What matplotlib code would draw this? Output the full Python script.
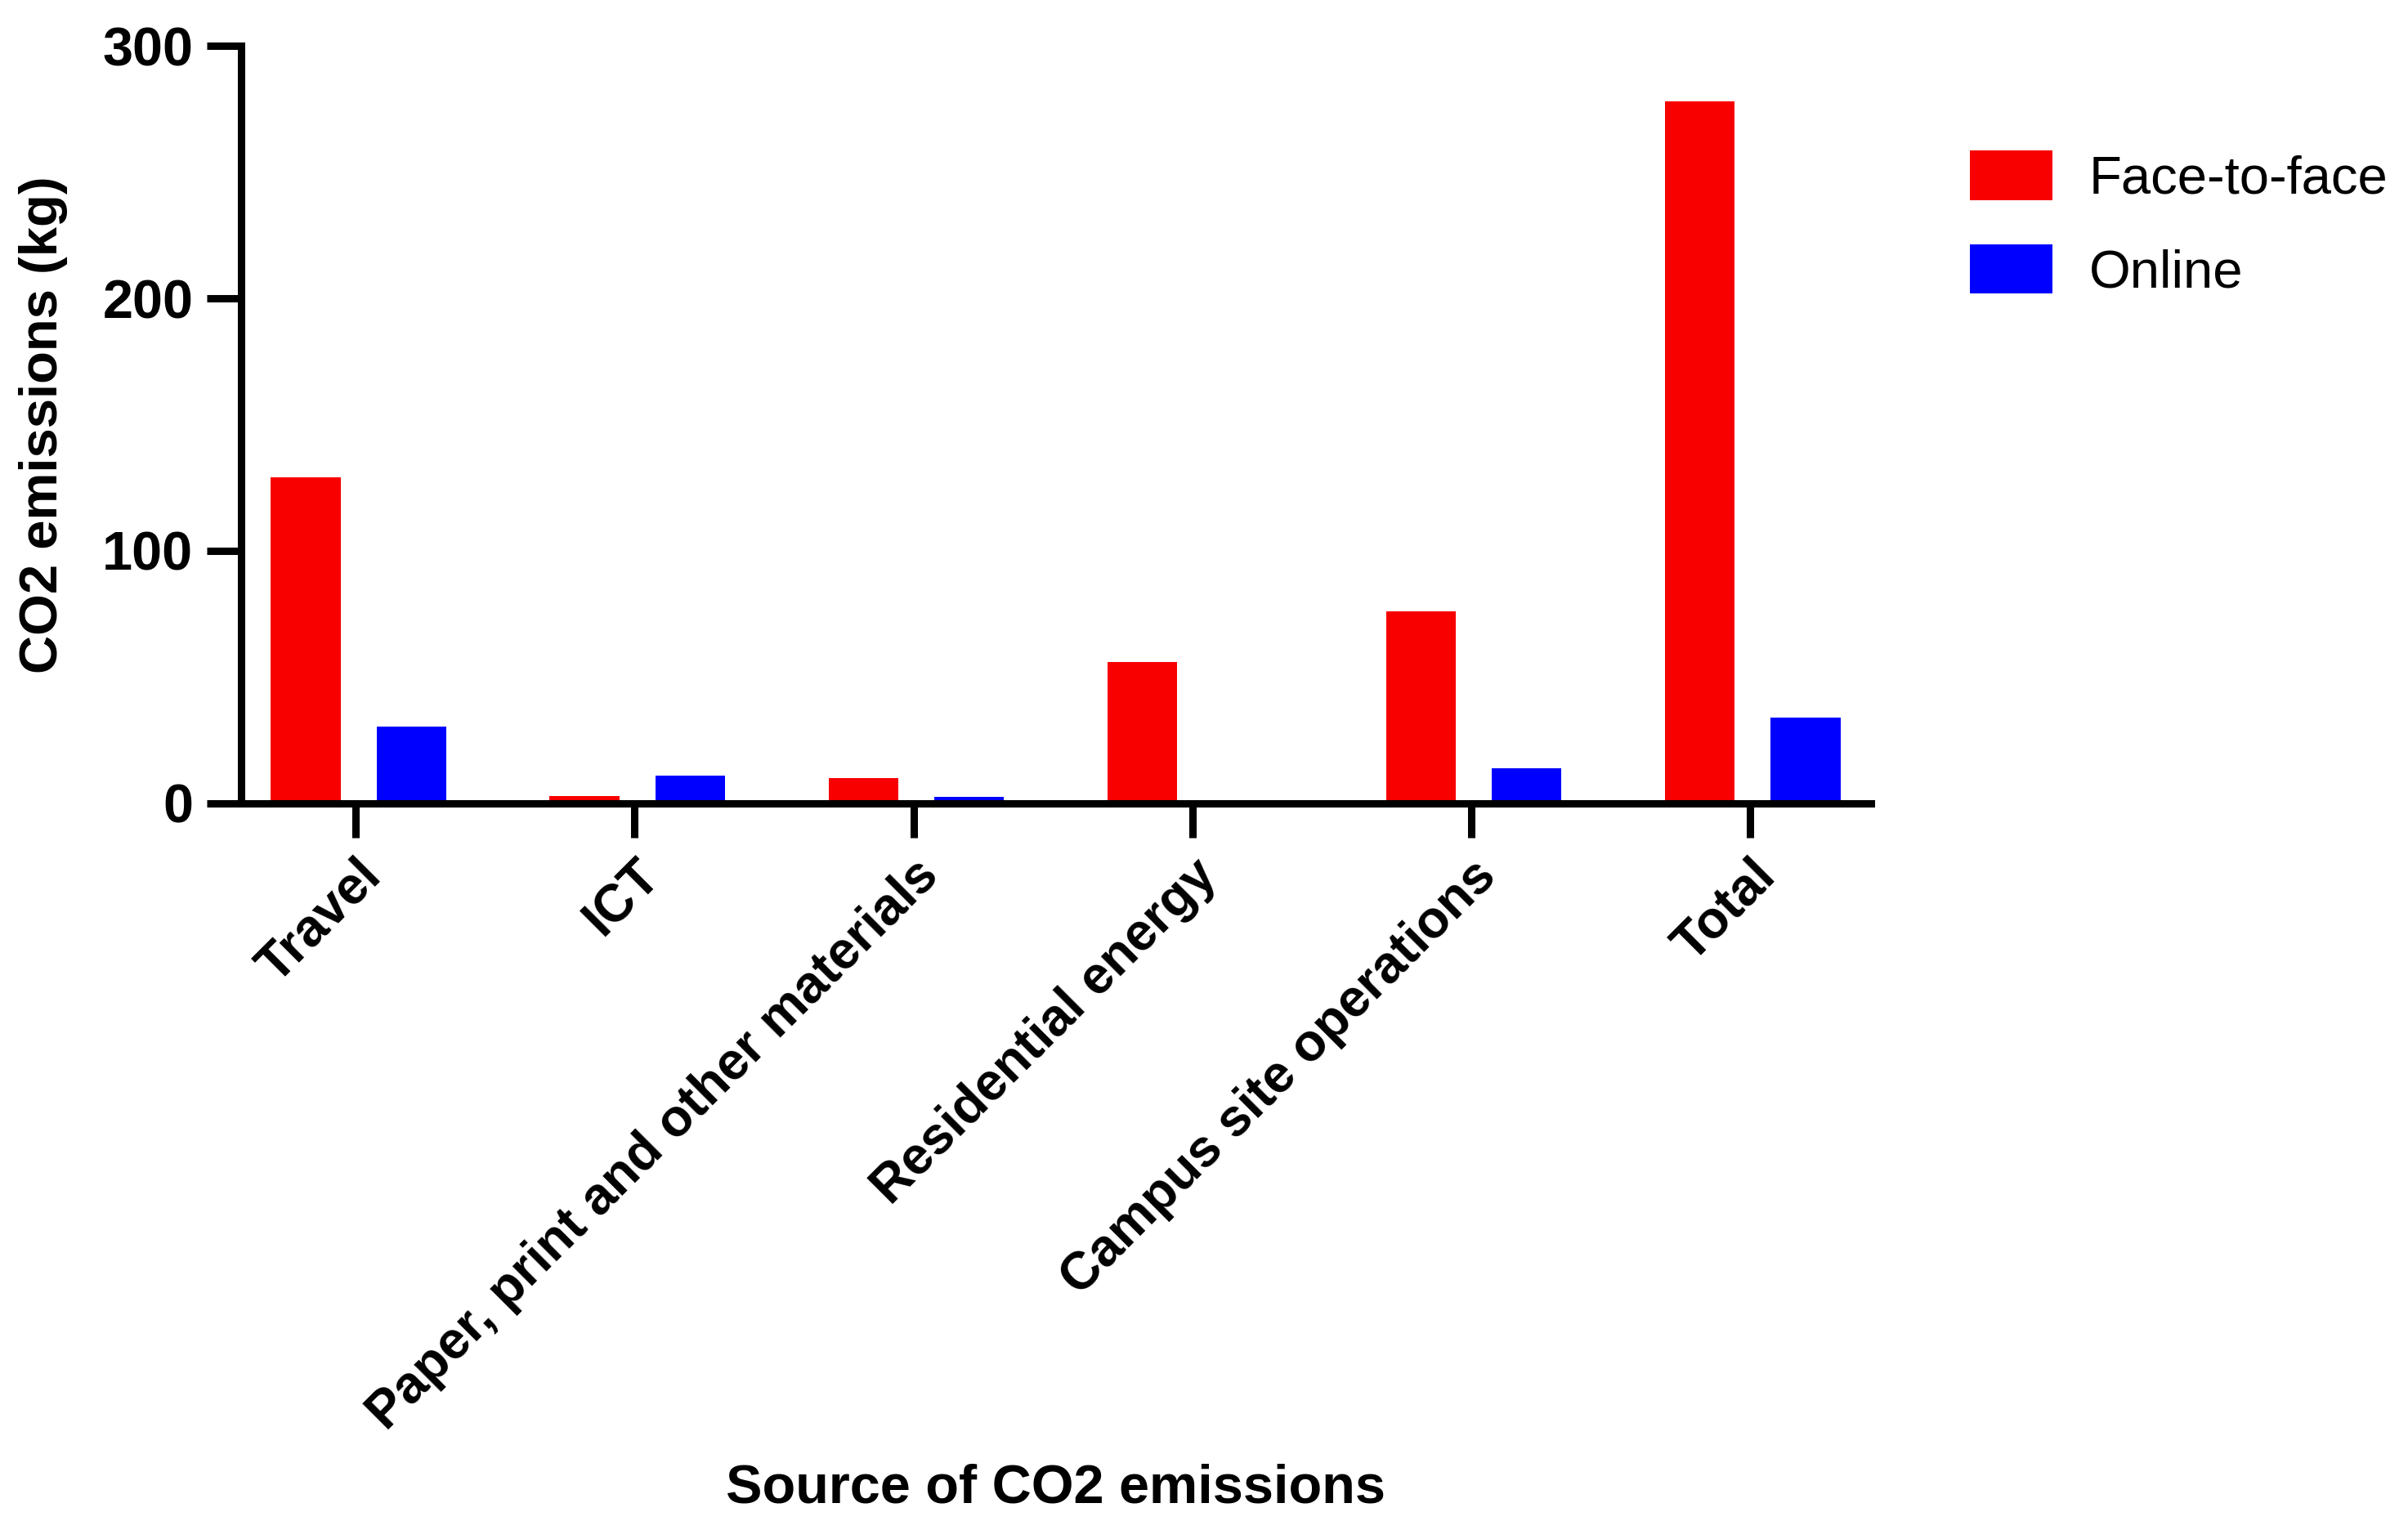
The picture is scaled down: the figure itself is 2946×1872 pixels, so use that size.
import matplotlib
matplotlib.use("Agg")
import matplotlib.pyplot as plt
import numpy as np

categories = ["Travel", "ICT", "Paper, print and other materials",
              "Residential energy", "Campus site operations", "Total"]
face_to_face = [129, 3, 10, 56, 76, 278]
online = [30.5, 11, 2.5, 0, 14, 34]
series_names = ["Face-to-face", "Online"]
yticks = [0, 100, 200, 300]

plt.rcParams['font.family'] = ['Liberation Sans', 'DejaVu Sans']

fig = plt.figure(figsize=(29.46, 18.72), dpi=100)
ax = fig.add_axes([0.100, 0.475, 0.677, 0.495])

x = np.arange(len(categories))
w = 0.25
off = 0.19
ax.bar(x - off + 0.01, face_to_face, width=w, color="#F80000", label=series_names[0])
ax.bar(x + off + 0.01, online, width=w, color="#0000FF", label=series_names[1])

ax.set_xlim(-0.413, 5.435)
ax.set_ylim(0, 300)
ax.set_yticks(yticks)
ax.set_xticks(x)
ax.set_xticklabels(categories, rotation=45, ha='right', rotation_mode='anchor',
                   fontsize=46, fontweight='bold')
ax.set_yticklabels([str(t) for t in yticks], fontsize=48, fontweight='bold')

for s in ['top', 'right']:
    ax.spines[s].set_visible(False)
for s in ['left', 'bottom']:
    ax.spines[s].set_linewidth(6.5)
ax.tick_params(axis='both', direction='out', length=30, width=6.5, pad=12)
ax.tick_params(axis='x', pad=12)

ax.set_ylabel("CO2 emissions (kg)", fontsize=47, fontweight='bold', labelpad=30)
ax.set_xlabel("Source of CO2 emissions", fontsize=48, fontweight='bold', labelpad=21)

leg = fig.legend(loc='upper left', bbox_to_anchor=(0.807, 0.919), frameon=False,
                 fontsize=47, handlelength=1.55, handleheight=1.05,
                 labelspacing=0.75, handletextpad=0.68, borderpad=0)

fig.savefig("out.png", dpi=100)
